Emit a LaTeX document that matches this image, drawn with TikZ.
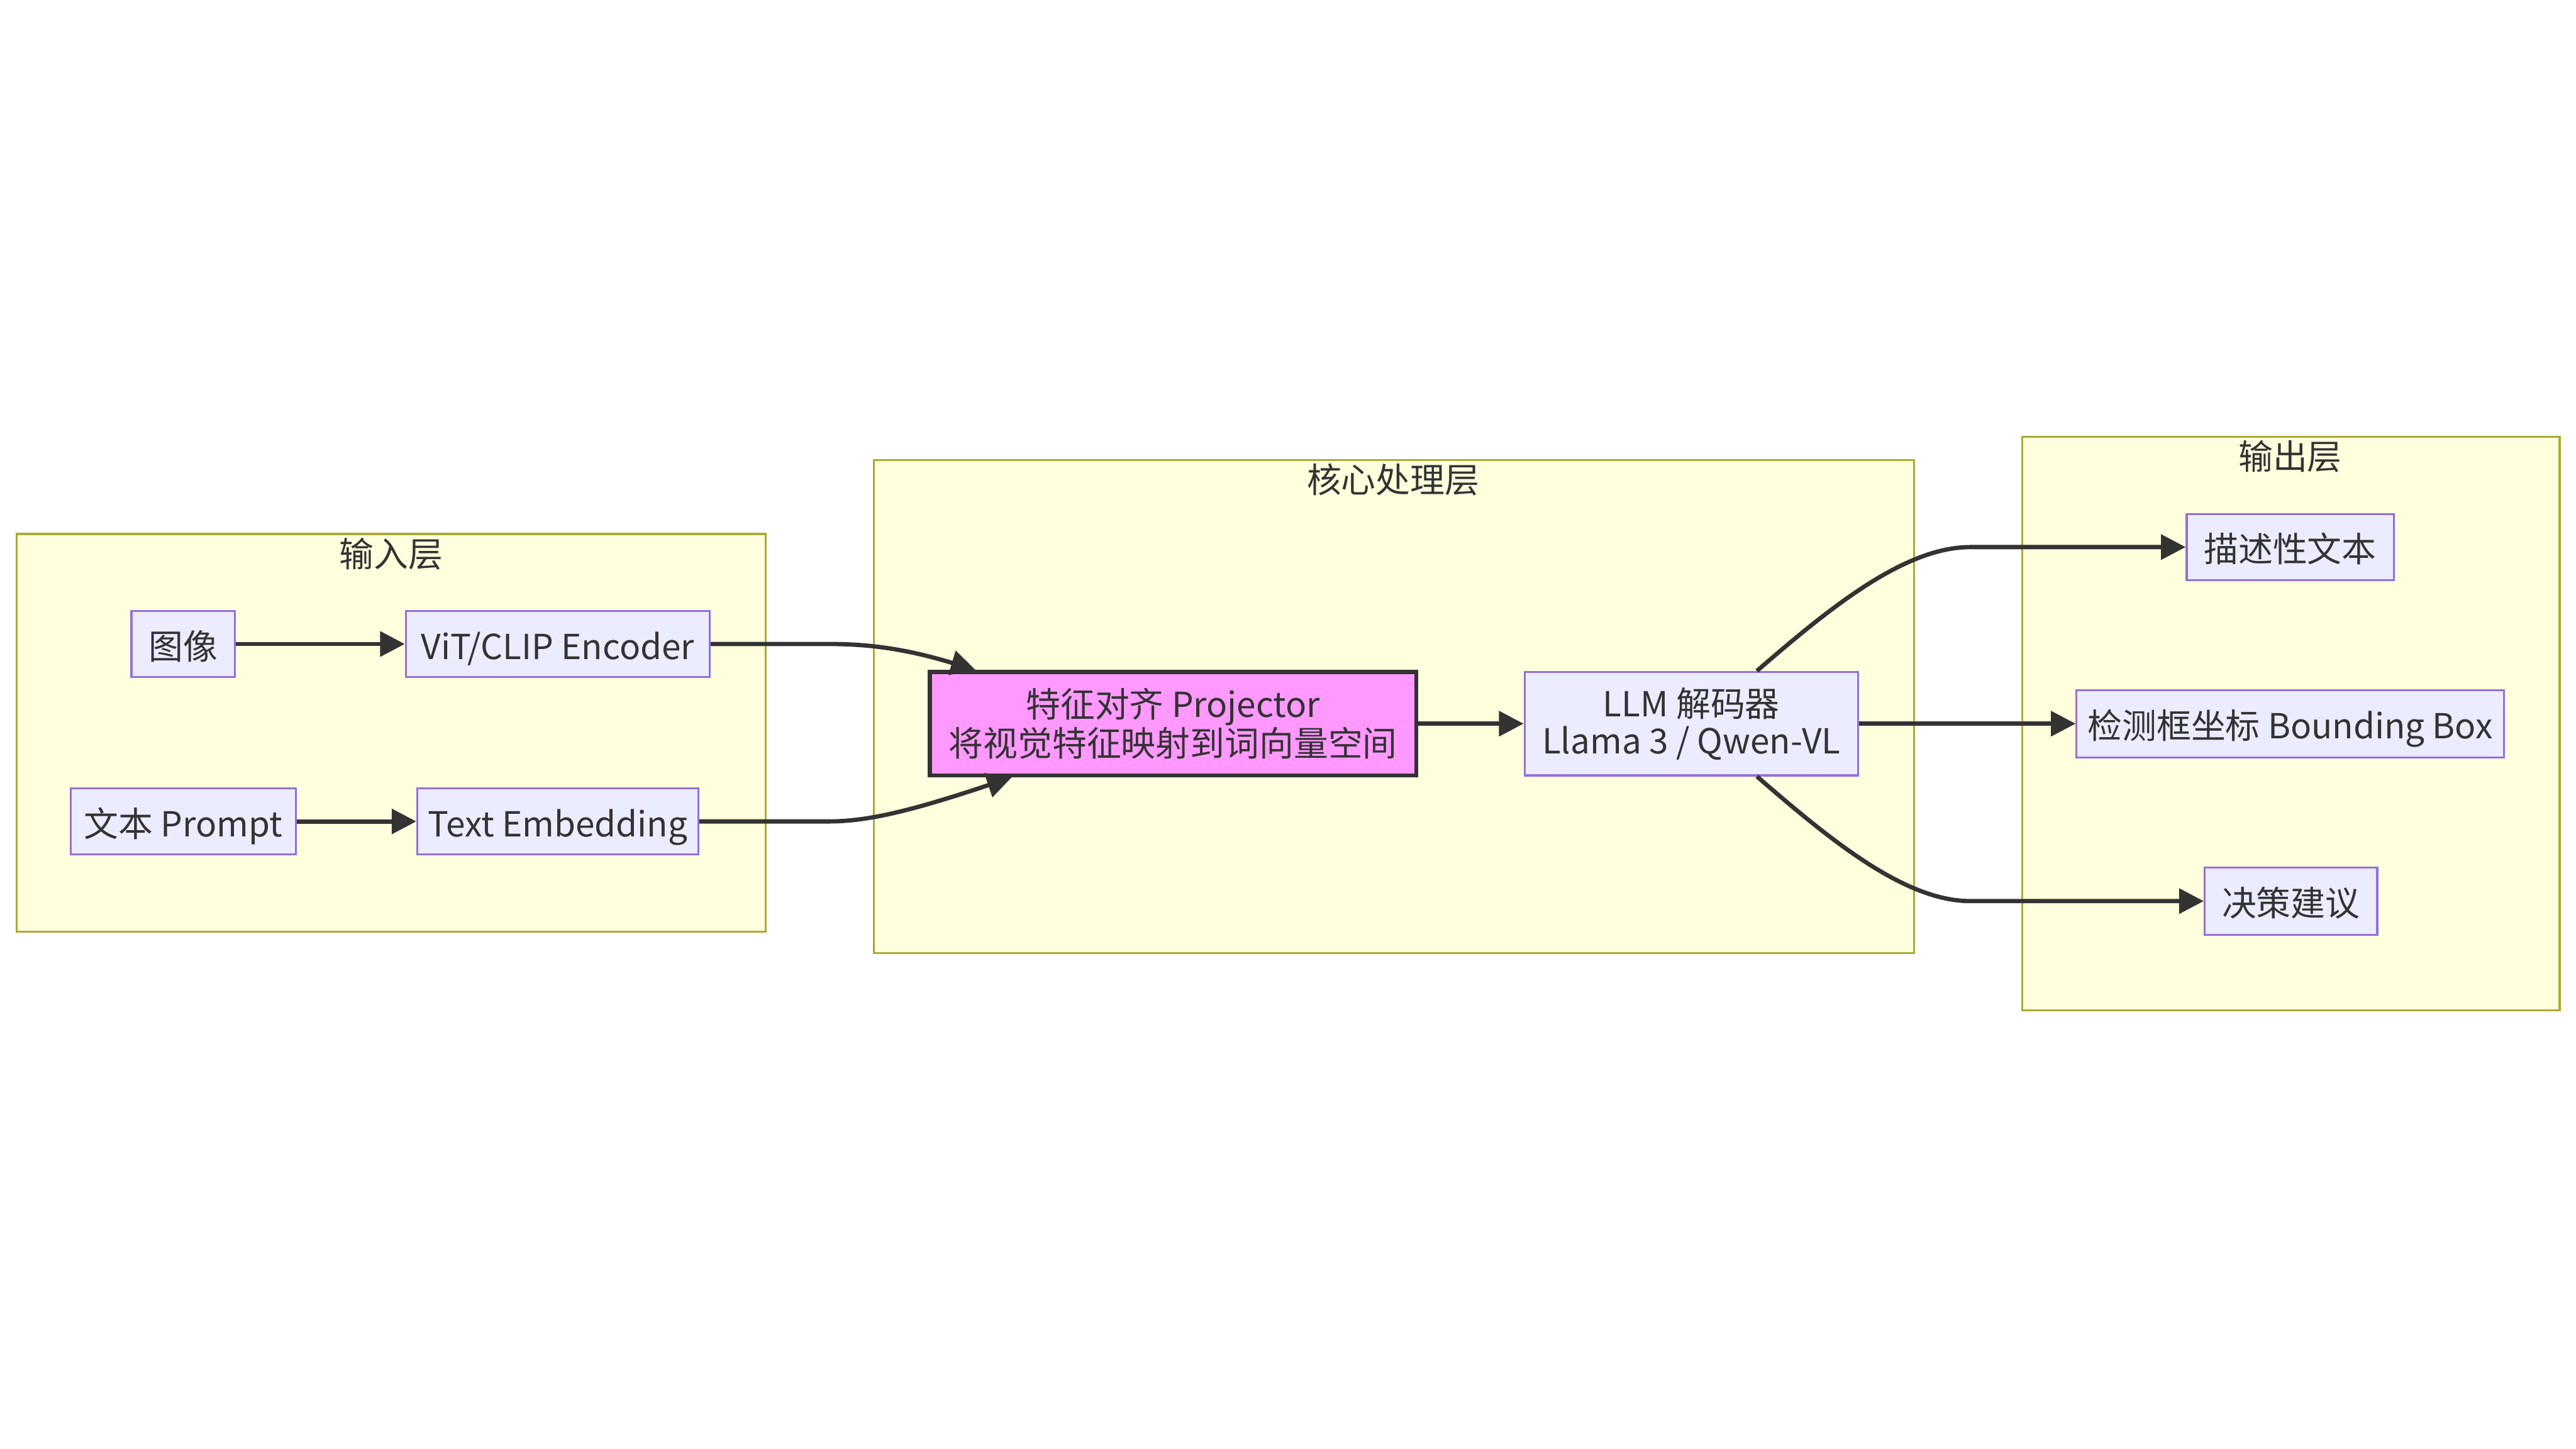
\documentclass[tikz,border=0pt]{standalone}
\usepackage{fontspec}
\setmainfont{Noto Sans CJK SC}
\usetikzlibrary{arrows.meta,calc}
\definecolor{clfill}{HTML}{FFFFDE}
\definecolor{clline}{HTML}{AAAA33}
\definecolor{ndfill}{HTML}{ECECFF}
\definecolor{ndline}{HTML}{9370DB}
\definecolor{ink}{HTML}{333333}
\definecolor{pinkfill}{HTML}{FF99FF}
\tikzset{
  cluster/.style={draw=clline, fill=clfill, line width=1.2pt},
  ctitle/.style={inner sep=0pt, text=ink},
  box/.style={draw=ndline, fill=ndfill, line width=1.2pt, minimum height=40pt, inner sep=0pt, align=center, text=ink},
  oneline/.style={text height=20pt, text depth=1.6pt},
  projbox/.style={draw=ink, fill=pinkfill, line width=2.4pt, inner sep=0pt, align=center, text=ink},
  arr/.style={draw=ink, line width=2.6pt, -{Triangle[length=15pt,width=15pt]}},
}
\begin{document}
\begin{tikzpicture}[x=1pt,y=-1pt, font=\fontsize{21}{22.5}\selectfont]
\useasboundingbox (0,0) rectangle (1568,882);
\fill[white] (0,0) rectangle (1568,882);

% clusters
\draw[cluster] (10,325) rectangle (466,567);
\draw[cluster] (532,280) rectangle (1165,580);
\draw[cluster] (1231,266) rectangle (1558,615);
\node[ctitle] (tin) at (238,337) {输入层};
\node[ctitle] (tcore) at (848,292) {核心处理层};
\node[ctitle] (tout) at (1394,278) {输出层};

% nodes
\node[box, oneline, minimum width=63pt] (img) at (111.5,392) {图像};
\node[box, oneline, minimum width=185pt] (vit) at (339.5,392) {ViT/CLIP Encoder};
\node[box, oneline, minimum width=137pt] (prompt) at (111.5,500) {文本 Prompt};
\node[box, oneline, minimum width=171pt] (temb) at (339.5,500) {Text Embedding};
\node[projbox, minimum width=296pt, minimum height=63pt] (proj) at (714,440.5) {特征对齐 Projector\\将视觉特征映射到词向量空间};
\node[box, minimum width=203pt, minimum height=63pt] (llm) at (1029.5,440.5) {LLM 解码器\\Llama 3 / Qwen-VL};
\node[box, oneline, minimum width=126pt] (desc) at (1394,333) {描述性文本};
\node[box, oneline, minimum width=260pt, minimum height=41pt] (bbox) at (1394,440.5) {检测框坐标 Bounding Box};
\node[box, oneline, minimum width=105pt, minimum height=41pt] (dec) at (1394.5,548.5) {决策建议};

% connector end points
\coordinate (pin1) at ($(proj.north west)+(29,0)$);
\coordinate (pin2) at ($(proj.south west)+(51,0)$);
\coordinate (lt) at ($(llm.north west)+(142,0)$);
\coordinate (lb) at ($(llm.south west)+(142,0)$);
\coordinate (dt) at ($(desc.west)+(-131,0)$);
\coordinate (db) at ($(dec.west)+(-142,0)$);

% connectors
\draw[arr] (img.east) -- (vit.west);
\draw[arr] (prompt.east) -- (temb.west);
\draw[arr] (vit.east) -- ++(72,0) .. controls +(24,0) and +(-43,-13) .. (pin1);
\draw[arr] (temb.east) -- ++(79,0) .. controls +(24,0) and +(-60,20) .. (pin2);
\draw[arr] (proj.east) -- (llm.west);
\draw[arr] (lt) .. controls +(45,-39) and +(-40,0) .. (dt) -- (desc.west);
\draw[arr] (llm.east) -- (bbox.west);
\draw[arr] (lb) .. controls +(45,39) and +(-40,0) .. (db) -- (dec.west);
\end{tikzpicture}
\end{document}
